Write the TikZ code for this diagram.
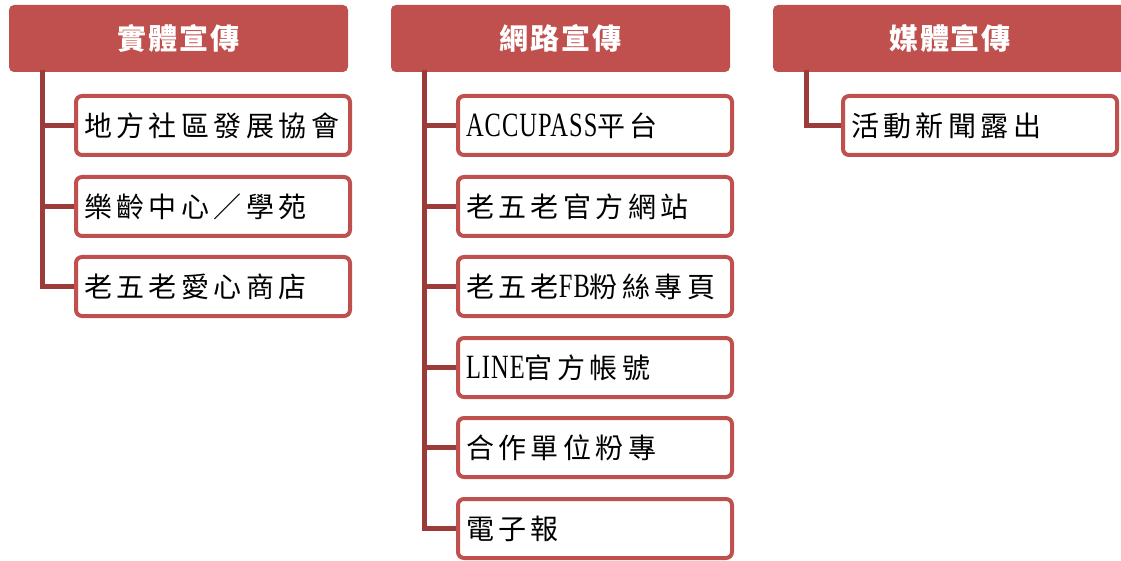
\documentclass[tikz,border=0pt]{standalone}
\usepackage{fontspec}
\newfontfamily\cjk[LetterSpace=16]{Noto Sans CJK TC}
\newfontfamily\cjkhead[LetterSpace=6]{Noto Sans CJK TC}
\newfontfamily\latf[FakeStretch=0.72,LetterSpace=3]{Liberation Serif}
\newcommand{\lat}[1]{{\latf\fontsize{34pt}{36pt}\selectfont #1}}
\definecolor{boxred}{RGB}{192,80,77}
\definecolor{connred}{RGB}{155,60,58}
\tikzset{
  headbox/.style={fill=boxred, draw=none, rounded corners=5pt, minimum width=339pt, minimum height=67pt, inner sep=0pt, text=white, font=\cjkhead\bfseries\fontsize{29pt}{32pt}\selectfont},
  childbox/.style={draw=boxred, line width=4pt, fill=white, rounded corners=6pt, text width=258pt, align=left, inner xsep=8pt, inner ysep=0pt, minimum height=59pt, font=\cjk\fontsize{28pt}{30pt}\selectfont},
  conn/.style={draw=connred, line width=5pt}
}
\begin{document}
\begin{tikzpicture}[x=1pt,y=-1pt]
\useasboundingbox (0,0) rectangle (1121,561);
\begin{scope}
\clip (0,0) rectangle (1121,561);
% headers
\node[headbox] (h1) at (178.5,38.5) {實體宣傳};
\node[headbox] (h2) at (560.5,38.5) {網路宣傳};
\node[headbox, minimum width=360pt] (h3) at (953,38.5) {};
\node[text=white, font=\cjkhead\bfseries\fontsize{29pt}{32pt}\selectfont] (h3t) at (950,38.5) {媒體宣傳};
% trunk coordinates
\coordinate (t1) at (42,70);
\coordinate (t2) at (424,70);
\coordinate (t3) at (806,70);
% column 1 children
\node[childbox] (a1) at (213,125.5) {地方社區發展協會};
\node[childbox] (a2) at (213,206.5) {樂齡中心／學苑};
\node[childbox] (a3) at (213,286.5) {老五老愛心商店};
% column 2 children
\node[childbox] (b1) at (595,125.5) {\lat{ACCUPASS}平台};
\node[childbox] (b2) at (595,206.5) {老五老官方網站};
\node[childbox] (b3) at (595,286.5) {老五老\lat{FB}粉絲專頁};
\node[childbox] (b4) at (595,367.5) {\lat{LINE}官方帳號};
\node[childbox] (b5) at (595,447.5) {合作單位粉專};
\node[childbox] (b6) at (595,528.5) {電子報};
% column 3 child
\node[childbox] (c1) at (980,125.5) {活動新聞露出};
% connectors
\foreach \n in {a1,a2,a3} \draw[conn] (t1) |- (\n.west);
\foreach \n in {b1,b2,b3,b4,b5,b6} \draw[conn] (t2) |- (\n.west);
\draw[conn] (t3) |- (c1.west);
\end{scope}
\end{tikzpicture}
\end{document}
